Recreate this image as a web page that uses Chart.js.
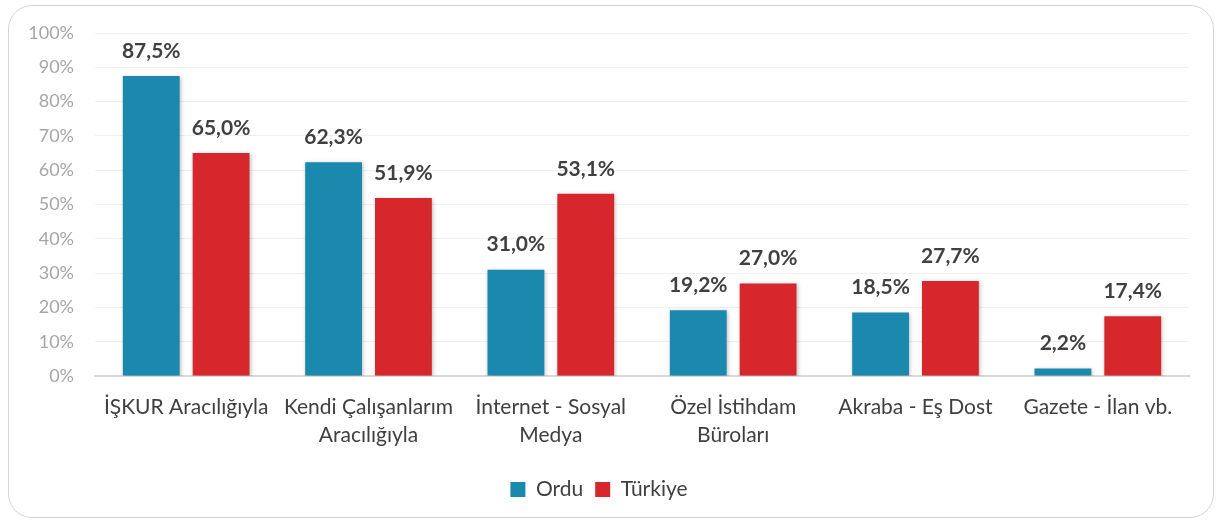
<!DOCTYPE html>
<html>
<head>
<meta charset="utf-8">
<script src="https://cdn.jsdelivr.net/npm/chart.js@4/dist/chart.umd.min.js"></script>
<style>
  body { margin: 0; background: #fff; }
  #card {
    position: absolute; left: 8px; top: 5px; width: 1204px; height: 511px;
    border: 1px solid #d6d6d6; border-radius: 24px; background: #fff;
  }
</style>
</head>
<body>
<div id="card"><canvas id="jobChart" width="1204" height="511"></canvas></div>
<script>
// categories and series
const categories = [
    'İŞKUR Aracılığıyla',
    ['Kendi Çalışanlarım', 'Aracılığıyla'],
    ['İnternet - Sosyal', 'Medya'],
    ['Özel İstihdam', 'Büroları'],
    'Akraba - Eş Dost',
    'Gazete - İlan vb.'
];
const orduValues = [87.5, 62.3, 31.0, 19.2, 18.5, 2.2];
const turkiyeValues = [65.0, 51.9, 53.1, 27.0, 27.7, 17.4];
const yTicks = [0, 10, 20, 30, 40, 50, 60, 70, 80, 90, 100];

const fmt = v => v.toFixed(1).replace('.', ',') + '%';

// bar shadows + value labels above bars
const barLabels = {
    id: 'barLabels',
    beforeDatasetsDraw(chart) {
        const ctx = chart.ctx;
        ctx.save();
        ctx.shadowColor = 'rgba(0,0,0,0.25)';
        ctx.shadowBlur = 4;
        ctx.shadowOffsetX = 1;
        ctx.shadowOffsetY = 1;
    },
    afterDatasetsDraw(chart) {
        const ctx = chart.ctx;
        ctx.restore();
        ctx.save();
        ctx.font = 'bold 21px Lato';
        ctx.fillStyle = '#404040';
        ctx.textAlign = 'center';
        ctx.textBaseline = 'middle';
        chart.data.datasets.forEach((ds, i) => {
            chart.getDatasetMeta(i).data.forEach((bar, j) => {
                ctx.fillText(fmt(ds.data[j]), bar.x, bar.y - 25);
            });
        });
        ctx.restore();
    }
};

const chart = new Chart(document.getElementById('jobChart').getContext('2d'), {
    type: 'bar',
    data: {
        labels: categories,
        datasets: [
            { label: 'Ordu', data: orduValues, backgroundColor: 'rgb(27,137,173)' },
            { label: 'Türkiye', data: turkiyeValues, backgroundColor: 'rgb(214,40,44)' }
        ]
    },
    options: {
        responsive: false,
        animation: false,
        categoryPercentage: 0.766,
        barPercentage: 0.814,
        layout: { padding: { top: 27, right: 24, bottom: 7, left: 0 } },
        plugins: {
            tooltip: { enabled: false },
            legend: {
                position: 'bottom',
                labels: {
                    boxWidth: 15, boxHeight: 15, padding: 12,
                    color: '#404040', font: { family: 'Lato', size: 21 }
                }
            }
        },
        scales: {
            x: {
                afterFit(scale) { scale.height = 91; },
                grid: { display: false, drawTicks: false },
                border: { color: '#d9d9d9', width: 2 },
                ticks: {
                    color: '#404040', padding: 17, maxRotation: 0, autoSkip: false,
                    font: { family: 'Lato', size: 21, lineHeight: 1.35 }
                }
            },
            y: {
                min: 0, max: 100,
                afterFit(scale) { scale.width = 86; },
                afterBuildTicks(scale) { scale.ticks = yTicks.map(v => ({ value: v })); },
                grid: { color: '#efefef', drawTicks: true, tickLength: 17, tickColor: 'rgba(0,0,0,0)' },
                border: { display: false },
                ticks: {
                    color: '#a6a6a6', padding: 4,
                    font: { family: 'Lato', size: 18 },
                    callback: v => v + '%'
                }
            }
        }
    },
    plugins: [barLabels]
});
</script>
</body>
</html>
